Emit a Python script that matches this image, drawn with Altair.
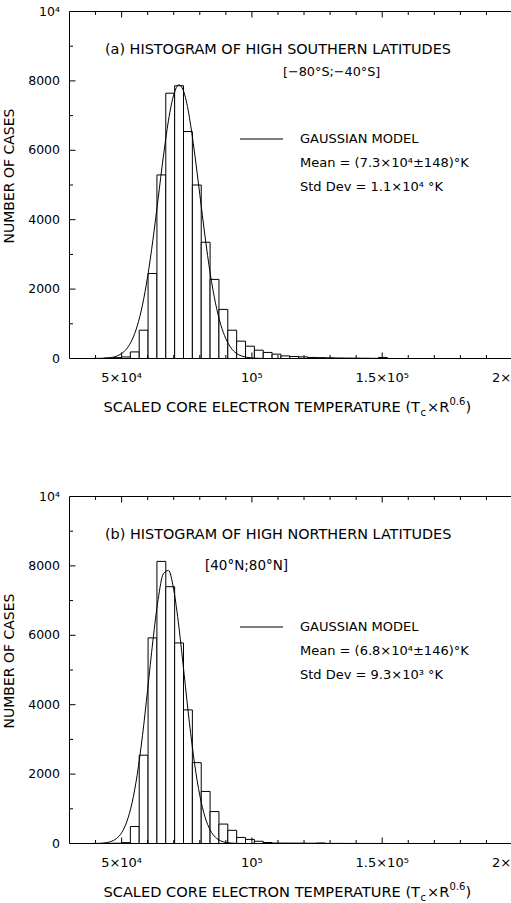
import altair as alt
import pandas as pd

# ---------------- data ----------------
bin_lo = [43150, 46550, 49950, 53350, 56750, 60150, 63550, 66950, 70350, 73750,
          77150, 80550, 83950, 87350, 90750, 94150, 97550, 100950, 104350, 107750,
          111150, 114550, 117950, 121350, 124750, 128150, 131550, 134950, 138350,
          141750, 145150, 148550]
bin_hi = [46550, 49950, 53350, 56750, 60150, 63550, 66950, 70350, 73750, 77150,
          80550, 83950, 87350, 90750, 94150, 97550, 100950, 104350, 107750, 111150,
          114550, 117950, 121350, 124750, 128150, 131550, 134950, 138350, 141750,
          145150, 148550, 151950]

south_counts = [10, 25, 45, 190, 816, 2450, 5290, 7645, 7860, 6540,
                5000, 3350, 2280, 1415, 815, 500, 355, 240, 175, 125,
                75, 58, 46, 30, 25, 20, 15, 12, 10, 8, 5, 30]
north_counts = [5, 8, 25, 490, 2545, 5925, 8130, 7400, 5780, 3850,
                2330, 1500, 920, 560, 380, 175, 118, 64, 28, 12,
                12, 10, 10, 8, 15, 4, 3, 2, 2, 1, 1, 1]

south_curve_x = [38000, 42000, 45000, 48000, 50000, 52000, 54000, 56000, 58000, 60000,
                 62000, 64000, 66000, 68000, 70000, 72000, 74000, 76000, 78000, 80000,
                 82000, 84000, 86000, 88000, 90000, 92000, 94000, 96000, 98000, 100000,
                 104000]
south_curve_y = [0, 5, 20, 65, 145, 285, 535, 940, 1540, 2370,
                 3410, 4600, 5810, 6870, 7600, 7885, 7655, 6955, 5920, 4730,
                 3525, 2450, 1605, 985, 570, 305, 150, 75, 35, 15,
                 2]

north_curve_x = [38000, 42000, 44000, 46000, 48000, 50000, 52000, 54000, 56000, 58000,
                 60000, 62000, 64000, 66000, 68000, 70000, 72000, 74000, 76000, 78000,
                 80000, 82000, 84000, 86000, 88000, 90000, 94000, 98000]
north_curve_y = [0, 6, 22, 59, 141, 309, 630, 1170, 1990, 3105,
                 4445, 5840, 7030, 7770, 7870, 7310, 6235, 4870, 3490, 2300,
                 1385, 765, 385, 180, 78, 30, 4, 0]

x_label_values = [50000, 100000, 150000, 200000]
x_label_texts = ["5×10⁴", "10⁵", "1.5×10⁵", "2×10⁵"]
x_major_ticks = [50000, 100000, 150000]
x_minor_ticks = [40000, 60000, 70000, 80000, 90000, 110000, 120000, 130000,
                 140000, 160000, 170000, 180000, 190000]
y_label_values = [0, 2000, 4000, 6000, 8000, 10000]
y_label_texts = ["0", "2000", "4000", "6000", "8000", "10⁴"]
y_major_ticks = [2000, 4000, 6000, 8000]
y_minor_ticks = [1000, 3000, 5000, 7000, 9000]

# ---------------- layout / style ----------------
FONT = "DejaVu Sans"
PAD_L, PAD_T = 69, 11
CW, CH = 442, 891            # chart area (origin at PAD_L, PAD_T)
XR = [0.5, 443.5]            # x range (plot extends just past the window, as in the reference)
MAJ, MIN = 6, 3.5

xscale = alt.Scale(domain=[30000, 200000], range=XR, nice=False, zero=False)
one = pd.DataFrame({"k": [0]})


def text_layer(txt, px, py, size=14.4, align="left", angle=0):
    return alt.Chart(pd.DataFrame({"t": [txt]})).mark_text(
        font=FONT, fontSize=size, align=align, baseline="middle", color="black", angle=angle
    ).encode(text="t:N", x=alt.value(px), y=alt.value(py))


def rule(x, x2, y, y2):
    return alt.Chart(one).mark_rule(color="black", strokeWidth=1).encode(
        x=alt.value(x), x2=alt.value(x2), y=alt.value(y), y2=alt.value(y2))


def panel(counts, cx, cy, y0, y1, head, bracket, bracket_x, bracket_dy, bracket_size,
          mean_txt, std_txt, leg_dy, title_dy):
    ys = alt.Scale(domain=[0, 10000], range=[y1, y0], nice=False, zero=False)

    def X(f):
        return alt.X(f, scale=xscale, axis=None)

    def Y(f):
        return alt.Y(f, scale=ys, axis=None)

    bars = alt.Chart(pd.DataFrame({"lo": bin_lo, "hi": bin_hi, "n": counts})).mark_rect(
        fill="white", stroke="black", strokeWidth=1
    ).encode(x=X("lo:Q"), x2="hi:Q", y=Y("n:Q"), y2=alt.datum(0))

    curve = alt.Chart(pd.DataFrame({"x": cx, "y": cy})).mark_line(
        color="black", strokeWidth=1, interpolate="monotone"
    ).encode(x=X("x:Q"), y=Y("y:Q"))

    layers = [bars, curve]

    # frame
    layers += [rule(XR[0], XR[1], y0, y0), rule(XR[0], XR[1], y1, y1),
               rule(XR[0], XR[0], y0, y1), rule(XR[1], XR[1], y0, y1)]

    # ticks (inward)
    for vals, ln in ((x_major_ticks, MAJ), (x_minor_ticks, MIN)):
        df = pd.DataFrame({"v": vals})
        layers.append(alt.Chart(df).mark_rule(color="black", strokeWidth=1).encode(
            x=X("v:Q"), y=alt.value(y1), y2=alt.value(y1 - ln)))
        layers.append(alt.Chart(df).mark_rule(color="black", strokeWidth=1).encode(
            x=X("v:Q"), y=alt.value(y0), y2=alt.value(y0 + ln)))
    for vals, ln in ((y_major_ticks, MAJ), (y_minor_ticks, MIN)):
        df = pd.DataFrame({"v": vals})
        layers.append(alt.Chart(df).mark_rule(color="black", strokeWidth=1).encode(
            y=Y("v:Q"), x=alt.value(XR[0]), x2=alt.value(XR[0] + ln)))

    # tick labels
    layers.append(alt.Chart(pd.DataFrame({"v": y_label_values, "t": y_label_texts})).mark_text(
        font=FONT, fontSize=12.5, align="right", baseline="middle", color="black"
    ).encode(y=Y("v:Q"), x=alt.value(-9), text="t:N"))
    layers.append(alt.Chart(pd.DataFrame({"v": x_label_values, "t": x_label_texts})).mark_text(
        font=FONT, fontSize=13, align="center", baseline="middle", color="black"
    ).encode(x=X("v:Q"), y=alt.value(y1 + 19.5), text="t:N"))

    # axis titles
    layers.append(text_layer("NUMBER OF CASES", -59, (y0 + y1) / 2 - 9, 14, "center", 270))
    X0, TY = 351, y1 + title_dy
    layers += [
        text_layer("SCALED CORE ELECTRON TEMPERATURE (T", X0, TY, 14.6, "right"),
        text_layer("c", X0 + 0.5, TY + 5, 10),
        text_layer("×R", X0 + 7, TY, 14.6),
        text_layer("0.6", X0 + 29.5, TY - 6, 10),
        text_layer(")", X0 + 45.5, TY, 14.6),
    ]

    # annotations
    layers += [
        text_layer(head, 36, y0 + 38.5),
        text_layer(bracket, bracket_x, y0 + bracket_dy, bracket_size),
        rule(171, 214, y0 + leg_dy, y0 + leg_dy),
        text_layer("GAUSSIAN MODEL", 231, y0 + leg_dy, 13),
        text_layer(mean_txt, 231, y0 + leg_dy + 24, 13),
        text_layer(std_txt, 231, y0 + leg_dy + 48, 13),
    ]
    return alt.layer(*layers)


top = panel(south_counts, south_curve_x, south_curve_y, 0.5, 347.5,
            "(a)  HISTOGRAM OF HIGH SOUTHERN LATITUDES",
            "[−80°S;−40°S]", 214, 60.5, 12.8,
            "Mean = (7.3×10⁴±148)°K", "Std Dev = 1.1×10⁴ °K", 127.5, 49.5)
bottom = panel(north_counts, north_curve_x, north_curve_y, 485.5, 832.5,
               "(b)  HISTOGRAM OF HIGH NORTHERN LATITUDES",
               "[40°N;80°N]", 136, 69.5, 13.5,
               "Mean = (6.8×10⁴±146)°K", "Std Dev = 9.3×10³ °K", 130.5, 49)

chart = alt.layer(top, bottom).resolve_scale(y="independent").properties(
    width=CW, height=CH,
    autosize=alt.AutoSizeParams(type="none"),
    padding={"left": PAD_L, "top": PAD_T, "right": 0, "bottom": 0},
).configure_view(strokeWidth=0)

chart.save("out.html", embed_options={"renderer": "svg", "actions": False})
